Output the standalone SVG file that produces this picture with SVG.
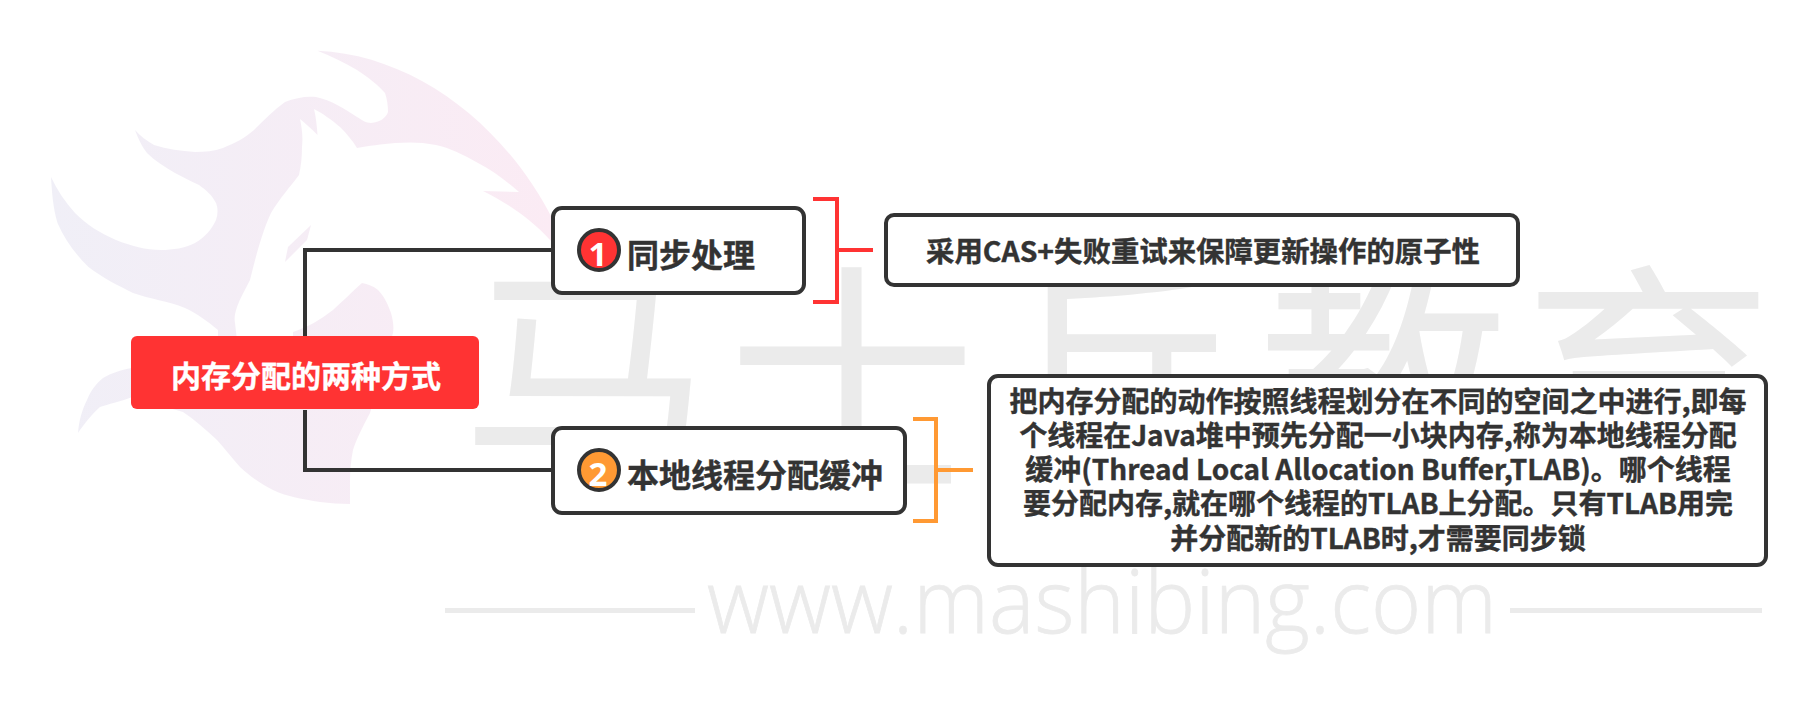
<svg xmlns="http://www.w3.org/2000/svg" width="1815" height="704" viewBox="0 0 1815 704">
<style>
.cjk{font-family:"Noto Sans CJK SC","Noto Sans",sans-serif}
.box{fill:#fff;stroke:#333;stroke-width:4}
.t{fill:#333;font-weight:700;text-anchor:middle;stroke:#333;stroke-width:.4}
.wm{fill:#ebebeb}
.line{fill:none;stroke:#333;stroke-width:4}
.num{fill:#fff;font-family:"Open Sans",sans-serif;font-weight:700;font-size:33px;text-anchor:middle}
.badge{stroke:#333;stroke-width:4}
</style>
<defs>
<linearGradient id="logoGrad" gradientUnits="userSpaceOnUse" x1="51" y1="0" x2="553" y2="0">
<stop offset="0" stop-color="#f0eff7"/><stop offset="1" stop-color="#fbebf4"/>
</linearGradient>
</defs>
<rect width="1815" height="704" fill="#fff"/>
<g id="watermark">
<path fill="url(#logoGrad)" d="M317.5 50.7C415 55 505 125 553 220L553 242L550 240C530 218 507 203 483 191L519 192C505 180 492 170 478 163C462 154 450 148 436 145C422 142 409 142 395 143C382 144 368 146 357 148C352 140 347 134 340 127C332 120 322 113 314 109C316 117 317 127 317.5 135C312 129 306 124 300 119C302 128 303 137 302 147C302 157 301 166 299 175C290 187 280 198 271 213C263 230 256 255 250 280C245 290 240 298 237 307C235 313 234 318 235 323L237 340L293 340L293 332C308 327 320 320 333 310C344 300 352 292 362 283C368 284 373 286 378 290C385 297 388 305 391 313C393 320 394 327 393 333L370 413C362 428 357 438 353 450C351 460 350 470 350 480L350 504C340 504 330 503 320 502C302 499 288 497 273 490C260 484 250 476 240 467C232 458 225 449 217 440C206 430 195 420 183 412L132 397C120 402 108 404 100 407C92 414 84 424 78 433C79 420 82 410 87 400C91 390 96 384 103 378C112 373 120 370 132 368L218 340L218 330C207 321 198 314 185 308C168 301 150 299 133 293C117 285 103 278 88.5 267C76 255 65 240 57.5 223C53 208 52 193 51 177C57 190 65 202 75 213C87 225 100 233 116 240C131 246 146 250 161 250C173 250 185 248 195 243C205 237 212 229 216 220C218 214 218 208 216 203C212 195 206 190 199 185C190 181 183 177 175 173C165 167 155 161 147 153C142 147 138 138 135 130C140 136 147 141 154 145C167 149 181 151 195 152C205 152 214 151 223 148C235 143 245 138 254 130C264 120 274 110 285 102C295 98 306 96 316 97C331 100 345 109 357 117C362 120 366 123 371 123C380 122 386 118 388 112C388 105 387 99 385 93C378 85 368 77 357 70C345 63 331 56 317.5 50.7Z"/>
<path fill="url(#logoGrad)" d="M311 225L307 240L285 262L288 247Z"/>
<text class="cjk wm" font-size="250" font-weight="400" x="461 727 992 1258 1523" y="477">马士兵教育</text>
<rect class="wm" x="445" y="608" width="250" height="5"/>
<rect class="wm" x="1510" y="608" width="252" height="5"/>
<text class="wm" font-family="'Open Sans',sans-serif" font-weight="300" font-size="88" stroke="#ebebeb" stroke-width=".8" x="707" y="633" textLength="790" lengthAdjust="spacingAndGlyphs">www.mashibing.com</text>
</g>
<g id="connectors">
<path class="line" d="M305 336V250H552"/>
<path class="line" d="M305 410V470H552"/>
<path d="M813 199H837V302H813M837 250H873" fill="none" stroke="#ff3333" stroke-width="4"/>
<path d="M913 419H936V521H913M936 470H973" fill="none" stroke="#ff9933" stroke-width="4"/>
</g>
<g id="root">
<rect x="131" y="336" width="348" height="73" rx="6" fill="#ff3333"/>
<text class="cjk" font-size="30" font-weight="700" fill="#fff" stroke="#fff" stroke-width=".4" text-anchor="middle" x="306" y="387">内存分配的两种方式</text>
</g>
<g id="node-sync">
<rect class="box" x="553" y="208" width="251" height="85" rx="9"/>
<circle class="badge" cx="599" cy="250" r="20" fill="#ff3333"/>
<text class="num" x="598" y="266">1</text>
<text class="cjk t" font-size="32" x="691" y="267">同步处理</text>
</g>
<g id="node-tlab">
<rect class="box" x="553" y="428" width="352" height="85" rx="9"/>
<circle class="badge" cx="599" cy="470" r="20" fill="#ff9933"/>
<text class="num" x="598" y="486">2</text>
<text class="cjk t" font-size="32" x="755" y="487">本地线程分配缓冲</text>
</g>
<g id="detail-sync">
<rect class="box" x="886" y="215" width="632" height="70" rx="8"/>
<text class="cjk t" font-size="28.4" x="1203" y="262">采用CAS+失败重试来保障更新操作的原子性</text>
</g>
<g id="detail-tlab">
<rect class="box" x="989" y="376" width="777" height="189" rx="9"/>
<g class="cjk t" font-size="28">
<text x="1378" y="412">把内存分配的动作按照线程划分在不同的空间之中进行,即每</text>
<text x="1378" y="446">个线程在Java堆中预先分配一小块内存,称为本地线程分配</text>
<text x="1378" y="480">缓冲(Thread Local Allocation Buffer,TLAB)。哪个线程</text>
<text x="1378" y="514">要分配内存,就在哪个线程的TLAB上分配。只有TLAB用完</text>
<text x="1378" y="549">并分配新的TLAB时,才需要同步锁</text>
</g>
</g>
</svg>
